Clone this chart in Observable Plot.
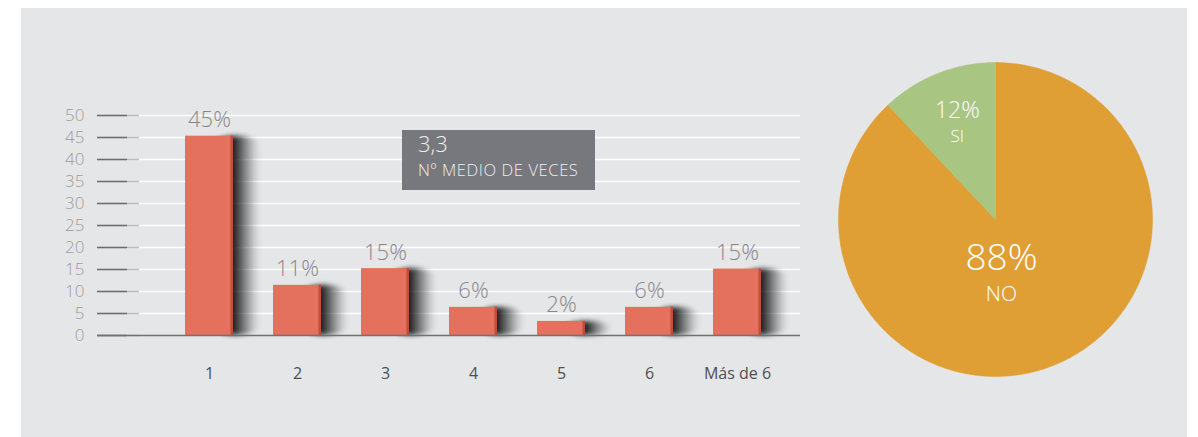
<!DOCTYPE html>
<html><head><meta charset="utf-8">
<script src="https://cdn.jsdelivr.net/npm/d3@7"></script>
<script src="https://cdn.jsdelivr.net/npm/@observablehq/plot@0.6"></script>
<style>
body{margin:0;background:#fff;font-family:"Open Sans",sans-serif;}
#panel{position:absolute;left:21px;top:8px;width:1166px;height:429px;background:#e5e6e8;}
#bars{position:absolute;left:0;top:0;}
#pie{position:absolute;left:838px;top:62px;}
#box{position:absolute;left:402px;top:130px;width:193px;height:60px;background:#76787e;color:#eeeff0;font-weight:300;}
#box .v{position:absolute;left:16px;top:-2.5px;font-size:22px;line-height:30px;white-space:nowrap;}
#box .l{position:absolute;left:16px;top:31.6px;font-size:16.5px;line-height:16px;letter-spacing:0.6px;white-space:nowrap;}
svg text{font-family:"Open Sans",sans-serif;}
</style></head>
<body>
<div id="panel"></div>
<div id="bars"></div>
<div id="box"></div>
<div id="pie"></div>
<script>
// ---- data ----
const categories = ["1", "2", "3", "4", "5", "6", "Más de 6"];
const barValues = [45.3, 11.4, 15.2, 6.4, 3.2, 6.4, 15.1];
const barLabels = ["45%", "11%", "15%", "6%", "2%", "6%", "15%"];
const yTicks = [0, 5, 10, 15, 20, 25, 30, 35, 40, 45, 50];
const averageValue = "3,3";
const averageLabel = "Nº MEDIO DE VECES";
const pieCategories = ["NO", "SI"];
const pieValues = [88, 12];
const pieLabels = ["88%", "12%"];

// ---- bar chart ----
const bars = categories.map((c, i) => ({cat: c, value: barValues[i], label: barLabels[i]}));

const barPlot = Plot.plot({
  width: 830, height: 400,
  marginLeft: 97, marginRight: 30, marginTop: 115, marginBottom: 65,
  style: {background: "transparent", overflow: "visible"},
  x: {type: "band", domain: categories, paddingInner: 0.456, paddingOuter: 0.708, align: 0.69},
  y: {domain: [0, 50]},
  marks: [
    Plot.ruleY(yTicks.slice(1), {stroke: "#ffffff", strokeWidth: 1.5}),
    Plot.barY(bars, {x: "cat", y: "value", fill: "url(#shadowGrad)", dx: 28, rx: 28, ry: 10}),
    Plot.barY(bars, {x: "cat", y: "value", fill: "#e4705e"}),
    Plot.barY(bars, {x: "cat", y: "value", fill: "#bf4e3c", insetLeft: 45.5}),
    Plot.axisY(yTicks, {tickSize: -42, color: "#b9babc", strokeWidth: 1.5, tickFormat: () => "", label: null}),
    Plot.axisY(yTicks, {tickSize: -30, color: "#6c6d70", strokeWidth: 1.5, tickFormat: () => "", label: null}),
    Plot.ruleY([0], {stroke: "#707174", strokeWidth: 1.5}),
    Plot.axisY(yTicks, {tickSize: 0, tickPadding: 13, fontSize: 17, color: "#9c9c9e", fontWeight: 300, label: null}),
    Plot.axisX({tickSize: 0, tickPadding: 32, fontSize: 16, color: "#4f4f52", label: null}),
    Plot.text(bars, {x: "cat", y: "value", text: "label", dy: -9, lineAnchor: "bottom", fontSize: 22, fill: "#88888a", fontWeight: 300})
  ]
});
// gradient + blur for bar shadows
const ns = "http://www.w3.org/2000/svg";
const defs = document.createElementNS(ns, "defs");
const grad = document.createElementNS(ns, "linearGradient");
grad.setAttribute("id", "shadowGrad");
grad.setAttribute("x1", "0"); grad.setAttribute("x2", "1");
grad.setAttribute("y1", "0"); grad.setAttribute("y2", "0");
[[0.417, 0.85], [0.5, 0.72], [0.62, 0.5], [0.75, 0.28], [0.87, 0.1], [1, 0]].forEach(([o, a]) => {
  const st = document.createElementNS(ns, "stop");
  st.setAttribute("offset", o);
  st.setAttribute("stop-color", "#000");
  st.setAttribute("stop-opacity", a);
  grad.appendChild(st);
});
defs.appendChild(grad);
const filt = document.createElementNS(ns, "filter");
filt.setAttribute("id", "shadowBlur");
filt.setAttribute("filterUnits", "userSpaceOnUse");
filt.setAttribute("x", "0"); filt.setAttribute("y", "0");
filt.setAttribute("width", "830"); filt.setAttribute("height", "400");
const blur = document.createElementNS(ns, "feGaussianBlur");
blur.setAttribute("stdDeviation", "1.5 2.5");
filt.appendChild(blur);
defs.appendChild(filt);
barPlot.insertBefore(defs, barPlot.firstChild);
const barGroups = barPlot.querySelectorAll('g[aria-label="bar"]');
barGroups[0].setAttribute("filter", "url(#shadowBlur)");
document.getElementById("bars").appendChild(barPlot);

// average box
document.getElementById("box").innerHTML = `<div class="v">${averageValue}</div><div class="l">${averageLabel}</div>`;

// ---- pie chart ----
const total = d3.sum(pieValues);
let acc = 0;
const slices = pieCategories.map((c, i) => {
  const a0 = acc / total * 2 * Math.PI; acc += pieValues[i];
  const a1 = acc / total * 2 * Math.PI;
  return {cat: c, a0, a1, mid: (a0 + a1) / 2, pct: pieLabels[i]};
});
const sliceColors = {NO: "#df9f35", SI: "#a9c582"};
const labelRadius = {NO: 0.38, SI: 0.66};
const slicePoints = s => {
  const n = Math.max(2, Math.ceil((s.a1 - s.a0) / 0.01));
  const pts = [{x: 0, y: 0}];
  for (let k = 0; k <= n; k++) {
    const a = s.a0 + (s.a1 - s.a0) * k / n;
    pts.push({x: Math.sin(a), y: Math.cos(a)});
  }
  pts.push({x: 0, y: 0});
  return pts;
};
const lx = d => Math.sin(d.mid) * labelRadius[d.cat];
const ly = d => Math.cos(d.mid) * labelRadius[d.cat];
const big = slices.filter(d => d.cat === "NO");
const small = slices.filter(d => d.cat === "SI");
const piePlot = Plot.plot({
  width: 314, height: 314, margin: 0,
  style: {background: "transparent", overflow: "visible"},
  x: {domain: [-1, 1], axis: null},
  y: {domain: [-1, 1], axis: null},
  marks: [
    ...slices.map(s => Plot.line(slicePoints(s), {x: "x", y: "y", fill: sliceColors[s.cat], stroke: sliceColors[s.cat], strokeWidth: 0.5})),
    Plot.text(big, {x: lx, y: ly, text: "pct", dy: -17, dx: -16, fontSize: 37, fill: "#fff", fontWeight: 300}),
    Plot.text(big, {x: lx, y: ly, text: "cat", dy: 19, dx: -16, fontSize: 21, fill: "#fff", fontWeight: 300}),
    Plot.text(small, {x: lx, y: ly, text: "pct", dy: -13, fontSize: 23, fill: "#fff", fontWeight: 300}),
    Plot.text(small, {x: lx, y: ly, text: "cat", dy: 13, fontSize: 17, fill: "#fff", fontWeight: 300})
  ]
});
document.getElementById("pie").appendChild(piePlot);
</script>
</body></html>
